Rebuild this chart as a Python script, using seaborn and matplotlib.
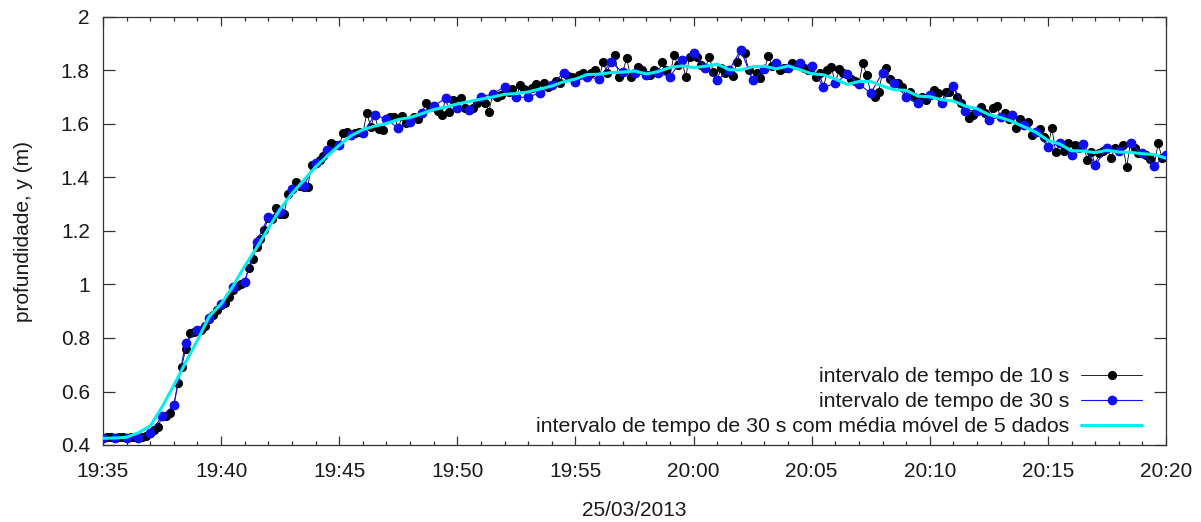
import numpy as np
import pandas as pd
import matplotlib
matplotlib.use("Agg")
import matplotlib.pyplot as plt
import matplotlib.dates as mdates
from matplotlib.ticker import FixedLocator, FuncFormatter
import seaborn as sns

# ---------------- data ----------------
start_time = "2013-03-25 19:35:00"
end_time = "2013-03-25 20:20:00"

# depth every 10 s (19:35:00 ... 20:20:00), one row per minute
depth_10s = [
    0.425, 0.43, 0.43, 0.425, 0.43, 0.43,
    0.425, 0.43, 0.43, 0.428, 0.43, 0.435,
    0.444, 0.455, 0.468, 0.508, 0.51, 0.52,
    0.549, 0.632, 0.693, 0.76, 0.818, 0.823,
    0.825, 0.83, 0.845, 0.87, 0.885, 0.905,
    0.925, 0.93, 0.955, 0.98, 0.995, 1.00,
    1.01, 1.06, 1.095, 1.14, 1.17, 1.205,
    1.25, 1.245, 1.285, 1.265, 1.265, 1.34,
    1.356, 1.384, 1.37, 1.365, 1.365, 1.447,
    1.453, 1.465, 1.48, 1.50, 1.528, 1.52,
    1.52, 1.565, 1.571, 1.56, 1.565, 1.57,
    1.565, 1.64, 1.59, 1.634, 1.58, 1.578,
    1.618, 1.625, 1.627, 1.584, 1.63, 1.603,
    1.609, 1.627, 1.62, 1.64, 1.677, 1.665,
    1.667, 1.65, 1.633, 1.696, 1.646, 1.69,
    1.66, 1.696, 1.659, 1.652, 1.66, 1.68,
    1.702, 1.68, 1.645, 1.712, 1.70, 1.708,
    1.739, 1.72, 1.73, 1.70, 1.745, 1.73,
    1.70, 1.735, 1.75, 1.717, 1.752, 1.74,
    1.745, 1.76, 1.755, 1.792, 1.78, 1.775,
    1.758, 1.783, 1.79, 1.777, 1.79, 1.80,
    1.767, 1.833, 1.79, 1.833, 1.858, 1.777,
    1.793, 1.846, 1.777, 1.792, 1.814, 1.80,
    1.783, 1.783, 1.80, 1.79, 1.833, 1.80,
    1.777, 1.858, 1.82, 1.839, 1.777, 1.85,
    1.867, 1.852, 1.82, 1.81, 1.852, 1.796,
    1.764, 1.81, 1.79, 1.80, 1.78, 1.83,
    1.877, 1.864, 1.80, 1.764, 1.79, 1.771,
    1.804, 1.854, 1.817, 1.827, 1.80, 1.81,
    1.81, 1.827, 1.82, 1.827, 1.81, 1.80,
    1.815, 1.777, 1.79, 1.737, 1.80, 1.812,
    1.752, 1.804, 1.79, 1.787, 1.77, 1.76,
    1.75, 1.827, 1.783, 1.715, 1.702, 1.72,
    1.792, 1.808, 1.77, 1.752, 1.752, 1.74,
    1.702, 1.72, 1.70, 1.677, 1.70, 1.69,
    1.708, 1.727, 1.715, 1.68, 1.72, 1.721,
    1.742, 1.702, 1.68, 1.65, 1.621, 1.635,
    1.65, 1.665, 1.64, 1.615, 1.66, 1.667,
    1.627, 1.642, 1.62, 1.634, 1.584, 1.618,
    1.596, 1.609, 1.56, 1.571, 1.58, 1.55,
    1.515, 1.584, 1.495, 1.528, 1.50, 1.528,
    1.484, 1.52, 1.51, 1.525, 1.465, 1.497,
    1.447, 1.49, 1.50, 1.509, 1.472, 1.509,
    1.50, 1.52, 1.44, 1.528, 1.51, 1.49,
    1.49, 1.484, 1.47, 1.443, 1.528, 1.472,
    1.484,
]

# depth every 30 s (19:35:00 ... 20:20:00)
depth_30s = [
    0.425, 0.425, 0.425, 0.428, 0.444, 0.508, 0.549, 0.782, 0.830, 0.874,
    0.927, 0.992, 1.011, 1.160, 1.253, 1.27, 1.356, 1.37, 1.453, 1.503,
    1.52, 1.559, 1.565, 1.634, 1.618, 1.584, 1.609, 1.64, 1.667, 1.696,
    1.66, 1.652, 1.702, 1.712, 1.739, 1.70, 1.70, 1.717, 1.745, 1.792,
    1.758, 1.777, 1.767, 1.833, 1.793, 1.792, 1.783, 1.79, 1.777, 1.839,
    1.867, 1.81, 1.764, 1.80, 1.877, 1.764, 1.804, 1.827, 1.81, 1.827,
    1.815, 1.737, 1.752, 1.787, 1.750, 1.715, 1.792, 1.752, 1.702, 1.677,
    1.708, 1.68, 1.742, 1.65, 1.65, 1.615, 1.627, 1.634, 1.596, 1.571,
    1.515, 1.528, 1.484, 1.525, 1.447, 1.509, 1.50, 1.528, 1.49, 1.443,
    1.484,
]

# 30 s series with 5-point moving average (cyan curve)
depth_30s_ma5 = [
    0.425, 0.426, 0.429, 0.446, 0.471, 0.542, 0.623, 0.709, 0.792, 0.881,
    0.927, 0.993, 1.069, 1.137, 1.210, 1.282, 1.340, 1.390, 1.440, 1.481,
    1.520, 1.556, 1.579, 1.592, 1.602, 1.617, 1.624, 1.639, 1.654, 1.663,
    1.675, 1.684, 1.693, 1.701, 1.711, 1.714, 1.720, 1.731, 1.742, 1.758,
    1.768, 1.785, 1.786, 1.792, 1.794, 1.798, 1.787, 1.796, 1.811, 1.817,
    1.811, 1.816, 1.824, 1.803, 1.802, 1.814, 1.816, 1.806, 1.817, 1.803,
    1.788, 1.784, 1.768, 1.748, 1.759, 1.759, 1.742, 1.728, 1.726, 1.704,
    1.702, 1.691, 1.686, 1.667, 1.657, 1.635, 1.624, 1.609, 1.589, 1.569,
    1.539, 1.525, 1.500, 1.499, 1.493, 1.502, 1.495, 1.494, 1.489, 1.486,
    1.472,
]

label_10s = "intervalo de tempo de 10 s"
label_30s = "intervalo de tempo de 30 s"
label_ma = "intervalo de tempo de 30 s com média móvel de 5 dados"
x_label = "25/03/2013"
y_label = "profundidade, y (m)"
y_ticks = [0.4, 0.6, 0.8, 1.0, 1.2, 1.4, 1.6, 1.8, 2.0]

# ---------------- figure ----------------
sns.set_style("ticks")
plt.rcParams["font.family"] = ["Liberation Sans", "DejaVu Sans"]
text_color = "#1a1a1a"

t10 = pd.date_range(start_time, periods=len(depth_10s), freq="10s")
t30 = pd.date_range(start_time, periods=len(depth_30s), freq="30s")

fig = plt.figure(figsize=(12.01, 5.22), dpi=100)
W, H = 1201, 522
ax = fig.add_axes([103 / W, 77 / H, 1063 / W, 428 / H])

sns.lineplot(x=t10, y=depth_10s, ax=ax, color="black", lw=0.6,
             marker="o", markersize=6.6, markeredgewidth=0,
             markerfacecolor="black", label=label_10s, zorder=2)
sns.lineplot(x=t30, y=depth_30s, ax=ax, color="#1010f5", lw=0.8,
             marker="o", markersize=7.0, markeredgewidth=0,
             markerfacecolor="#1010f5", label=label_30s, zorder=3)
sns.lineplot(x=t30, y=depth_30s_ma5, ax=ax, color="#00f0f0", lw=2.2,
             label=label_ma, zorder=4)

ax.set_xlim(pd.Timestamp(start_time), pd.Timestamp(end_time))
ax.set_ylim(0.4, 2.0)

ax.xaxis.set_major_locator(mdates.MinuteLocator(byminute=range(0, 60, 5)))
ax.xaxis.set_minor_locator(mdates.MinuteLocator())
ax.xaxis.set_major_formatter(mdates.DateFormatter("%H:%M"))
ax.yaxis.set_major_locator(FixedLocator(y_ticks))
ax.yaxis.set_major_formatter(FuncFormatter(lambda v, p: "%g" % v))

for sp in ax.spines.values():
    sp.set_visible(True)
    sp.set_color("#333333")
    sp.set_linewidth(0.9)

ax.tick_params(axis="both", which="both", direction="in", top=True,
               right=True, colors="#333333", labelcolor=text_color,
               labelsize=15, width=0.9)
ax.tick_params(axis="x", which="major", length=6.5, pad=12)
ax.tick_params(axis="x", which="minor", length=3)
ax.tick_params(axis="y", which="major", length=8.5, pad=9.5)

ax.set_xlabel(x_label, fontsize=15, color=text_color, labelpad=14.5)
ax.set_ylabel(y_label, fontsize=15, color=text_color, labelpad=20)

leg = ax.legend(loc="lower right", bbox_to_anchor=(0.9774, 0.02),
                frameon=False, markerfirst=False, fontsize=15.3,
                handlelength=2.85, handletextpad=0.55, labelspacing=0.29,
                borderpad=0, borderaxespad=0, numpoints=1)
for txt in leg.get_texts():
    txt.set_color(text_color)

fig.savefig("out.png", dpi=100, facecolor="white")
